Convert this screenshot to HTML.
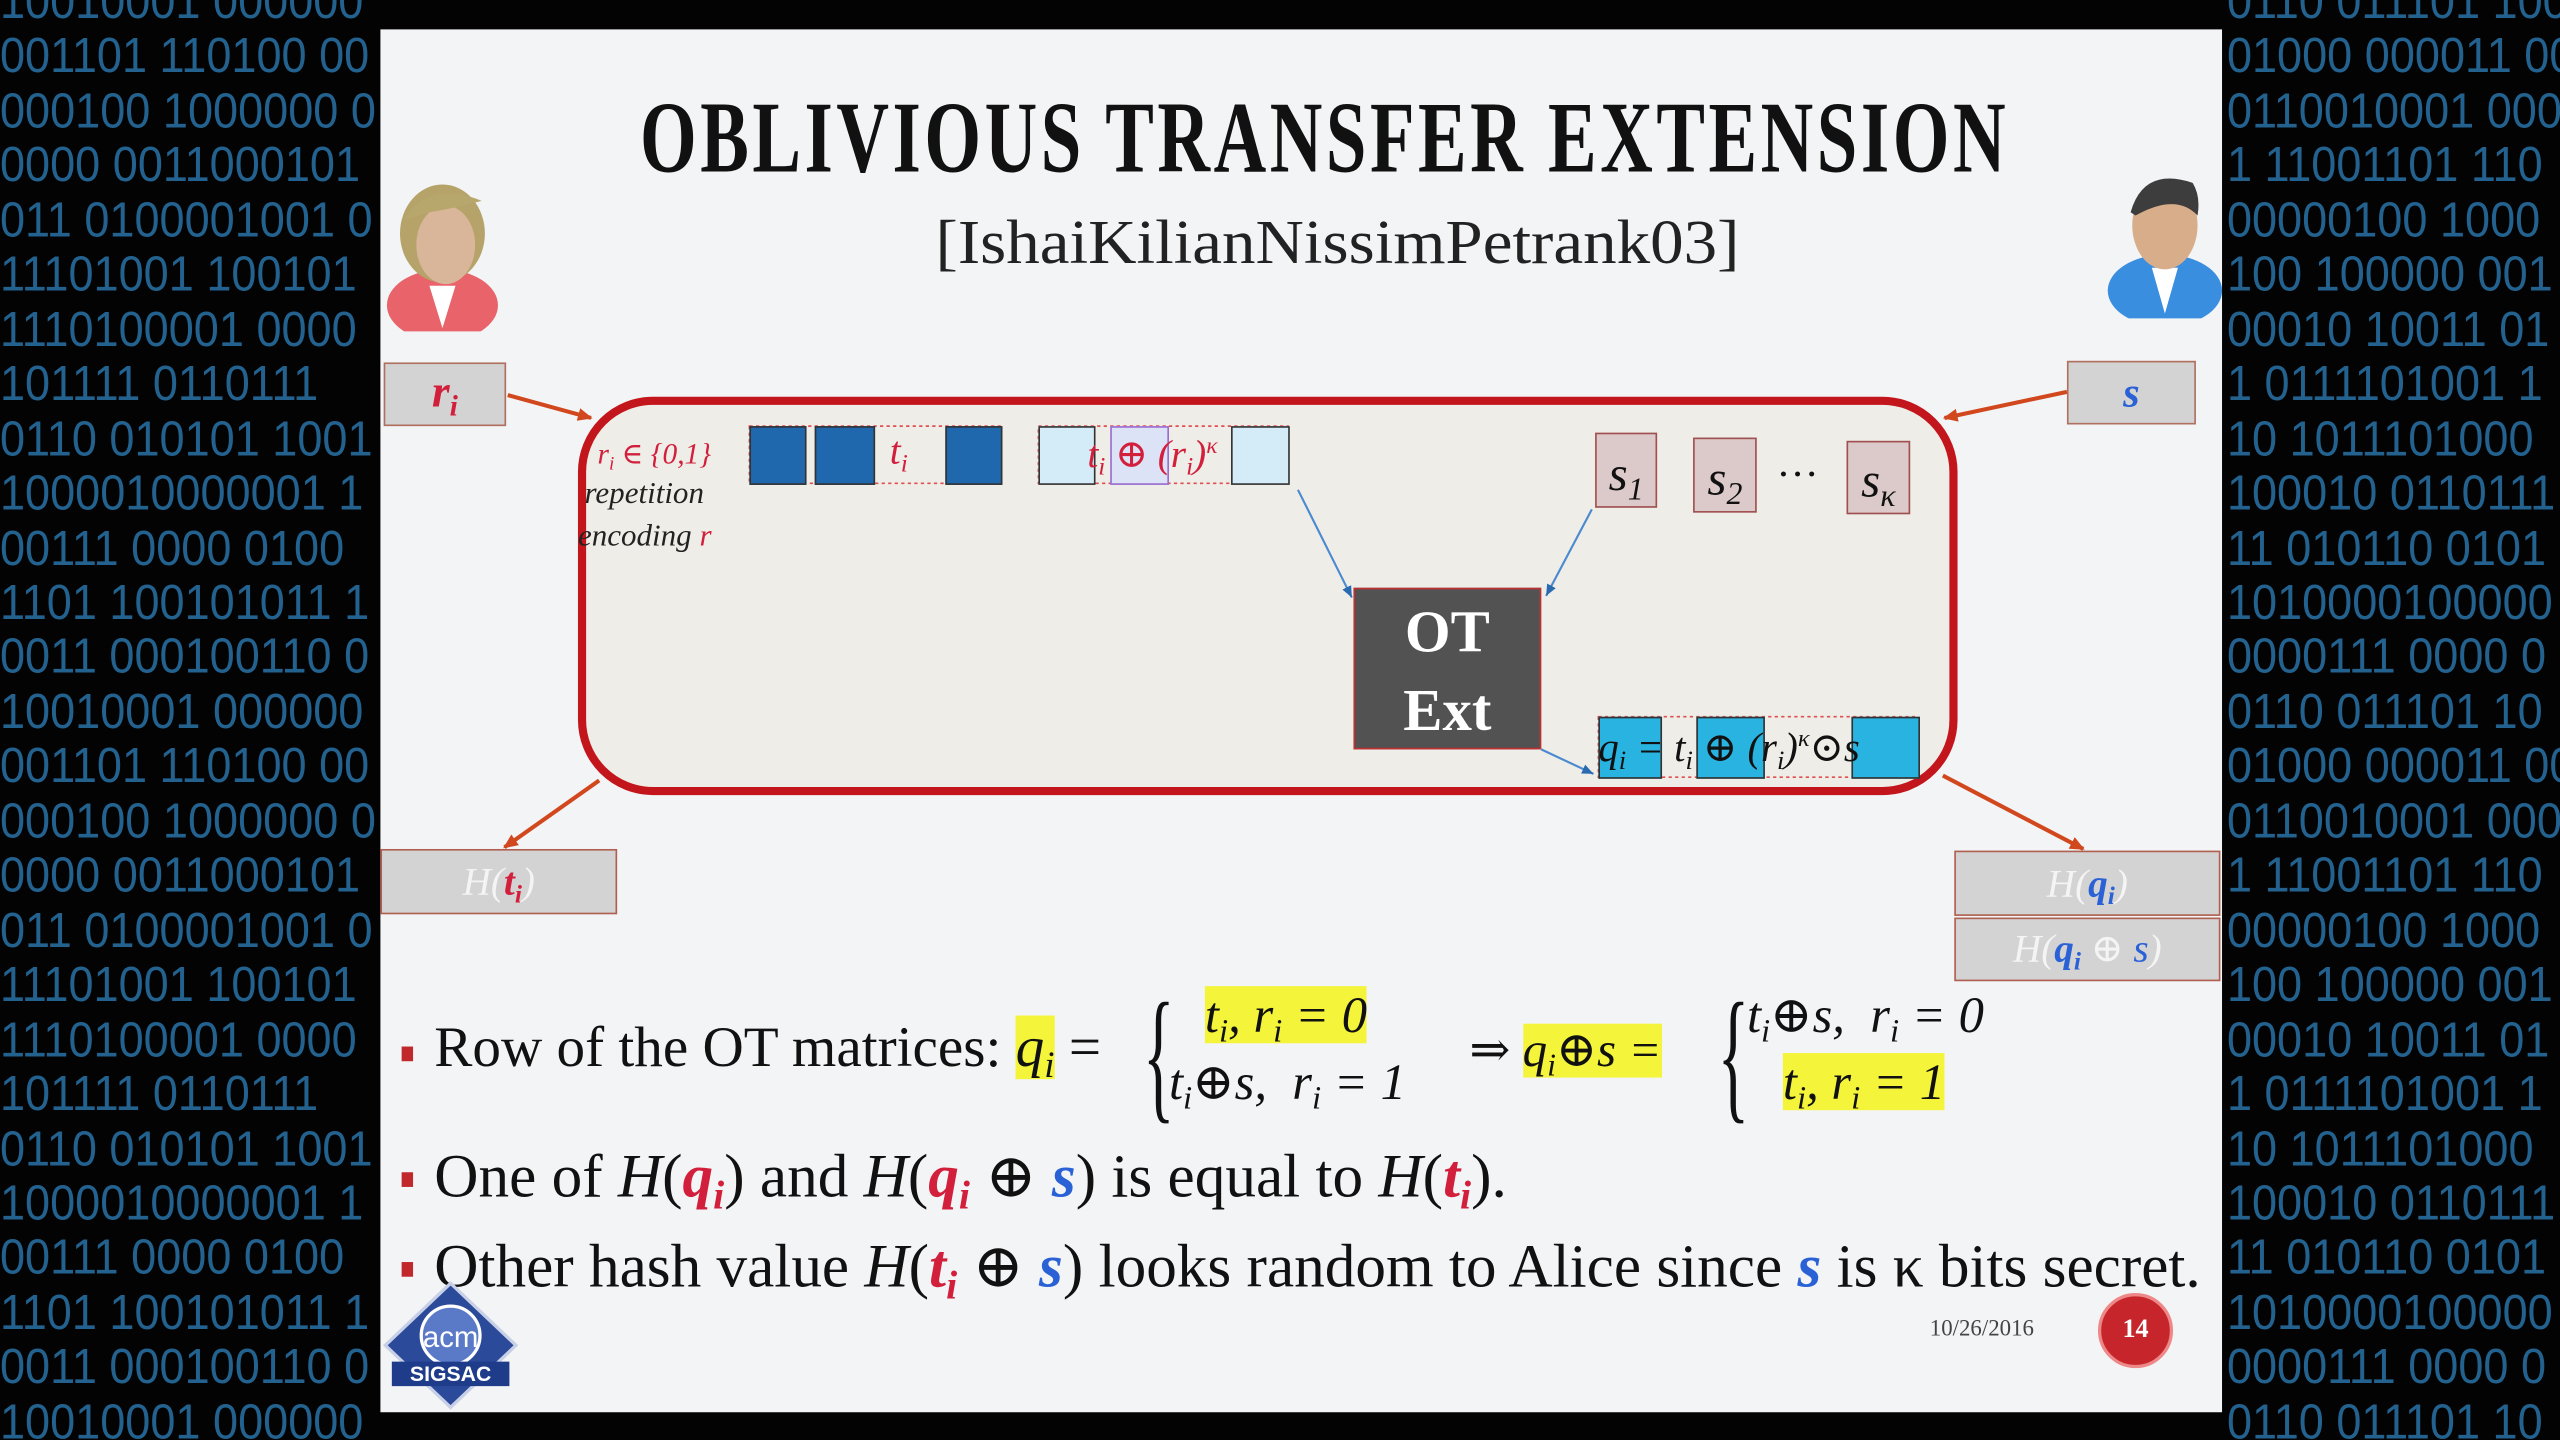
<!DOCTYPE html>
<html><head><meta charset="utf-8">
<style>
html,body{margin:0;padding:0;background:#000;}
body{width:2560px;height:1440px;overflow:hidden;position:relative;}
#w{position:absolute;left:0;top:0;width:1568px;height:882px;transform:scale(1.632653);transform-origin:0 0;background:#030303;overflow:hidden;}
.bin{position:absolute;font-family:"Liberation Sans Narrow","Liberation Sans",sans-serif;font-size:30px;line-height:33.45px;color:#23628f;white-space:pre;transform:scaleX(0.92);transform-origin:0 0;}
.a{position:absolute;}
.serif{font-family:"Liberation Serif","DejaVu Serif",serif;}
.it{font-style:italic;}
.red{color:#d21f3c;}
.blue{color:#2a62d6;}
.hl{background:#f4f43a;}
sub{font-size:0.65em;vertical-align:-0.3em;}
sup{font-size:0.6em;vertical-align:0.6em;}
.sq{position:absolute;border:1px solid #333;}
</style></head><body><div id="w">
<div class="bin" style="left:0;top:-15px;">10010001 000000
001101 110100 00
000100 1000000 0
0000 0011000101
011 0100001001 0
11101001 100101
1110100001 0000
101111 0110111
0110 010101 1001
1000010000001 1
00111 0000 0100
1101 100101011 1
0011 000100110 0
10010001 000000
001101 110100 00
000100 1000000 0
0000 0011000101
011 0100001001 0
11101001 100101
1110100001 0000
101111 0110111
0110 010101 1001
1000010000001 1
00111 0000 0100
1101 100101011 1
0011 000100110 0
10010001 000000</div>
<div class="bin" style="left:1364px;top:-15px;">0110 011101 100
01000 000011 00
0110010001 000
1 11001101 110
00000100 1000
100 100000 001
00010 10011 01
1 0111101001 1
10 1011101000
100010 0110111
11 010110 0101
1010000100000
0000111 0000 0
0110 011101 10
01000 000011 00
0110010001 000
1 11001101 110
00000100 1000
100 100000 001
00010 10011 01
1 0111101001 1
10 1011101000
100010 0110111
11 010110 0101
1010000100000
0000111 0000 0
0110 011101 10</div>

<!-- slide -->
<div class="a" style="left:233px;top:18px;width:1128px;height:847px;background:#f3f4f6;"></div>

<div class="a serif" style="left:392px;top:50px;height:70px;font-weight:bold;font-size:62px;line-height:70px;color:#111;white-space:nowrap;transform:scaleX(0.72);transform-origin:0 0;letter-spacing:3px;font-family:'Liberation Serif',serif;">OBLIVIOUS TRANSFER EXTENSION</div>
<div class="a serif" style="left:573px;top:126px;font-size:38px;line-height:46px;color:#222;white-space:nowrap;transform:scaleX(1.08);transform-origin:0 0;">[IshaiKilianNissimPetrank03]</div>

<!-- Alice -->
<svg class="a" style="left:233px;top:105px;" width="75" height="98">
<ellipse cx="38" cy="82" rx="34" ry="22" fill="#e8636a"/>
<path d="M30 70 L38 96 L46 70 Z" fill="#fff"/>
<ellipse cx="38" cy="38" rx="26" ry="30" fill="#b5a36a"/>
<ellipse cx="40" cy="45" rx="18" ry="24" fill="#d9b69a"/>
<path d="M14 30 Q30 5 62 18 Q48 22 30 25 Z" fill="#b8a76c"/>
</svg>
<!-- Bob -->
<svg class="a" style="left:1288px;top:100px;" width="75" height="95">
<ellipse cx="38" cy="78" rx="35" ry="22" fill="#3a8ee0"/>
<path d="M30 64 L38 92 L46 64 Z" fill="#fff"/>
<ellipse cx="38" cy="38" rx="20" ry="27" fill="#d8ad8a"/>
<path d="M17 30 Q25 2 55 12 Q60 20 58 32 Q45 18 20 32 Z" fill="#3d3d3d"/>
</svg>

<!-- r_i / s boxes -->
<div class="a serif it" style="left:235px;top:222px;width:75px;height:39px;background:#d3d3d3;border:1px solid #b07060;box-sizing:border-box;text-align:center;font-size:28px;line-height:36px;color:#d21f3c;font-weight:bold;">r<sub>i</sub></div>
<div class="a serif it" style="left:1266px;top:221px;width:79px;height:39px;background:#d3d3d3;border:1px solid #b07060;box-sizing:border-box;text-align:center;font-size:26px;line-height:38px;color:#2a62d6;font-weight:bold;">s</div>

<!-- main rounded box -->
<div class="a" style="left:354px;top:243px;width:845px;height:244px;box-sizing:border-box;border:5px solid #c3161c;border-radius:46px;background:#efede7;"></div>

<svg class="a" style="left:0;top:0;" width="1568" height="882">
<defs>
<marker id="ar" markerWidth="10" markerHeight="10" refX="8" refY="5" orient="auto" markerUnits="userSpaceOnUse"><path d="M0 1 L9 5 L0 9 Z" fill="#d2481e"/></marker>
<marker id="bl" markerWidth="8" markerHeight="8" refX="7" refY="4" orient="auto" markerUnits="userSpaceOnUse"><path d="M0 1 L7 4 L0 7 Z" fill="#2a6ab0"/></marker>
</defs>
<g stroke="#d2481e" stroke-width="2.5" fill="none" marker-end="url(#ar)">
<line x1="311" y1="242" x2="362" y2="256"/>
<line x1="1266" y1="240" x2="1191" y2="256"/>
<line x1="367" y1="478" x2="309" y2="519"/>
<line x1="1190" y1="475" x2="1276" y2="520"/>
</g>
<g stroke="#4b8ad0" stroke-width="1.3" fill="none" marker-end="url(#bl)">
<line x1="795" y1="300" x2="828" y2="366"/>
<line x1="975" y1="312" x2="947" y2="365"/>
<line x1="944" y1="459" x2="976" y2="474"/>
</g>
<g stroke="#e05050" stroke-width="1" stroke-dasharray="2,2" fill="none">
<rect x="459" y="261" width="154" height="35"/>
<rect x="636" y="261" width="153" height="35"/>
<rect x="979" y="439" width="196" height="37"/>
</g>
</svg>

<div class="a serif it" style="left:366px;top:268px;font-size:18px;color:#d21f3c;white-space:nowrap;">r<sub>i</sub> ∈ {0,1}</div>
<div class="a serif it" style="left:358px;top:292px;font-size:19px;color:#222;">repetition</div>
<div class="a serif it" style="left:354px;top:318px;font-size:19px;color:#222;">encoding <span class="red">r</span></div>

<div class="sq" style="left:459px;top:261px;width:33px;height:34px;background:#1f68ad;"></div>
<div class="sq" style="left:499px;top:261px;width:35px;height:34px;background:#1f68ad;"></div>
<div class="sq" style="left:579px;top:261px;width:33px;height:34px;background:#1f68ad;"></div>
<div class="a serif it red" style="left:545px;top:264px;font-size:24px;">t<sub>i</sub></div>

<div class="sq" style="left:636px;top:261px;width:33px;height:34px;background:#d4ecf8;"></div>
<div class="sq" style="left:680px;top:261px;width:34px;height:34px;background:#dde3f7;border-color:#9a6bd0;"></div>
<div class="sq" style="left:754px;top:261px;width:34px;height:34px;background:#d4ecf8;"></div>
<div class="a serif it red" style="left:666px;top:264px;font-size:24px;white-space:nowrap;">t<sub>i</sub> ⊕ (r<sub>i</sub>)<sup>κ</sup></div>

<div class="sq serif it" style="left:977px;top:265px;width:36px;height:44px;background:#dcc9c9;border-color:#a05050;font-size:30px;line-height:50px;text-align:center;color:#111;">s<sub>1</sub></div>
<div class="sq serif it" style="left:1037px;top:268px;width:37px;height:44px;background:#dcc9c9;border-color:#a05050;font-size:30px;line-height:50px;text-align:center;color:#111;">s<sub>2</sub></div>
<div class="a" style="left:1088px;top:276px;font-size:26px;color:#111;font-family:'Liberation Serif',serif;">···</div>
<div class="sq serif it" style="left:1131px;top:270px;width:37px;height:43px;background:#dcc9c9;border-color:#a05050;font-size:30px;line-height:48px;text-align:center;color:#111;">s<sub>κ</sub></div>

<div class="a serif" style="left:829px;top:360px;width:115px;height:99px;background:#525252;border:1px solid #c03030;box-sizing:border-box;color:#fff;font-weight:bold;font-size:36px;line-height:48px;text-align:center;padding-top:2px;">OT<br>Ext</div>

<div class="sq" style="left:979px;top:439px;width:37px;height:36px;background:#29b3e0;"></div>
<div class="sq" style="left:1039px;top:439px;width:40px;height:36px;background:#29b3e0;"></div>
<div class="sq" style="left:1134px;top:439px;width:40px;height:36px;background:#29b3e0;"></div>
<div class="a serif it" style="left:979px;top:443px;font-size:25px;color:#111;white-space:nowrap;">q<sub>i</sub> = t<sub>i</sub> ⊕ (r<sub>i</sub>)<sup>κ</sup>⊙s</div>

<!-- hash boxes -->
<div class="a serif it" style="left:233px;top:520px;width:145px;height:40px;background:#d3d3d3;border:1px solid #b06050;box-sizing:border-box;text-align:center;font-size:24px;line-height:40px;color:#f4f4f4;">H(<b class="red">t<sub>i</sub></b>)</div>
<div class="a serif it" style="left:1197px;top:521px;width:163px;height:40px;background:#d3d3d3;border:1px solid #b06050;box-sizing:border-box;text-align:center;font-size:24px;line-height:40px;color:#f4f4f4;">H(<b class="blue">q<sub>i</sub></b>)</div>
<div class="a serif it" style="left:1197px;top:562px;width:163px;height:39px;background:#d3d3d3;border:1px solid #b06050;box-sizing:border-box;text-align:center;font-size:24px;line-height:38px;color:#f4f4f4;">H(<b class="blue">q<sub>i</sub></b> ⊕ <span class="blue">s</span>)</div>

<!-- bullets -->
<div class="a" style="left:246px;top:641px;width:7px;height:9px;background:#c0282c;"></div>
<div class="a serif" style="left:266px;top:622px;font-size:35px;color:#111;white-space:nowrap;">Row of the OT matrices: <span class="it hl">q<sub>i</sub></span> =</div>
<div class="a serif" style="left:700px;top:602px;font-size:90px;line-height:90px;color:#111;transform:scaleX(0.45);transform-origin:0 0;">{</div>
<div class="a serif it" style="left:738px;top:604px;font-size:31px;color:#111;white-space:nowrap;"><span class="hl">t<sub>i</sub>, r<sub>i</sub> = 0</span></div>
<div class="a serif it" style="left:716px;top:645px;font-size:31px;color:#111;white-space:nowrap;">t<sub>i</sub>⊕s, &nbsp;r<sub>i</sub> = 1</div>
<div class="a serif" style="left:900px;top:626px;font-size:30px;color:#111;white-space:nowrap;">⇒ <span class="it hl">q<sub>i</sub>⊕s =</span></div>
<div class="a serif" style="left:1052px;top:602px;font-size:90px;line-height:90px;color:#111;transform:scaleX(0.45);transform-origin:0 0;">{</div>
<div class="a serif it" style="left:1070px;top:604px;font-size:31px;color:#111;white-space:nowrap;">t<sub>i</sub>⊕s, &nbsp;r<sub>i</sub> = 0</div>
<div class="a serif it" style="left:1092px;top:645px;font-size:31px;color:#111;white-space:nowrap;"><span class="hl">t<sub>i</sub>, r<sub>i</sub> = 1</span></div>

<div class="a" style="left:246px;top:718px;width:7px;height:9px;background:#c0282c;"></div>
<div class="a serif" style="left:266px;top:698px;font-size:37.5px;color:#111;white-space:nowrap;">One of <i>H</i>(<b class="it red">q<sub>i</sub></b>) and <i>H</i>(<b class="it red">q<sub>i</sub></b> ⊕ <b class="it blue">s</b>) is equal to <i>H</i>(<b class="it red">t<sub>i</sub></b>).</div>

<div class="a" style="left:246px;top:773px;width:7px;height:9px;background:#c0282c;"></div>
<div class="a serif" style="left:266px;top:753px;font-size:37.5px;color:#111;white-space:nowrap;">Other hash value <i>H</i>(<b class="it red">t<sub>i</sub></b> ⊕ <b class="it blue">s</b>) looks random to Alice since <b class="it blue">s</b> is κ bits secret.</div>

<!-- footer -->
<svg class="a" style="left:234px;top:784px;" width="84" height="80">
<path d="M42 2 L82 40 L42 78 L2 40 Z" fill="#2b4a9a" stroke="#c8d0e8" stroke-width="2"/>
<circle cx="42" cy="34" r="18" fill="#5a7ac8" stroke="#fff" stroke-width="2"/>
<text x="42" y="41" font-family="Liberation Sans,sans-serif" font-size="18" fill="#fff" text-anchor="middle">acm</text>
<rect x="6" y="50" width="72" height="15" fill="#1e3c8a"/>
<text x="42" y="62" font-family="Liberation Sans,sans-serif" font-size="13" font-weight="bold" fill="#fff" text-anchor="middle">SIGSAC</text>
</svg>
<div class="a serif" style="left:1182px;top:807px;font-size:14px;color:#444;">10/26/2016</div>
<div class="a serif" style="left:1285px;top:792px;width:46px;height:46px;border-radius:50%;background:#c6262b;border:2px solid #e88;box-sizing:border-box;color:#fff;font-size:16px;line-height:42px;text-align:center;font-weight:bold;">14</div>
</div></body></html>
